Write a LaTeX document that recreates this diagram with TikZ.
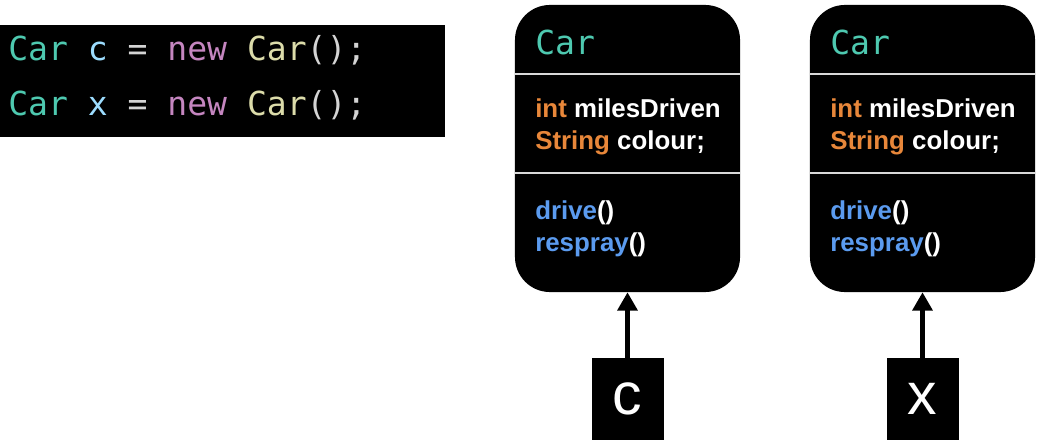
\documentclass[tikz,border=0pt]{standalone}
\usepackage{fontspec}
\setmainfont{Liberation Sans}
\newfontfamily\codefont{DejaVu Sans Mono}
\usetikzlibrary{arrows.meta}

\definecolor{typeteal}{HTML}{4EC9B0}
\definecolor{varblue}{HTML}{9CDCFE}
\definecolor{keypurple}{HTML}{C586C0}
\definecolor{funcyellow}{HTML}{DCDCAA}
\definecolor{punctgrey}{HTML}{D4D4D4}
\definecolor{fieldorange}{HTML}{E8873A}
\definecolor{methblue}{HTML}{5B9BEF}

\tikzset{
  codetext/.style={anchor=base west, inner sep=0pt, font=\codefont\fontsize{23.5}{28}\selectfont},
  carbox/.style={fill=black, rounded corners=0.875cm, minimum width=5.625cm, minimum height=7.175cm, inner sep=0pt},
  sepline/.style={draw=white!85!black, line width=0.8pt},
  membertext/.style={anchor=base west, inner sep=0pt, text=white, font=\bfseries\fontsize{18.4}{22}\selectfont},
  varbox/.style={fill=black, text=white, minimum width=1.8cm, minimum height=2.05cm, inner sep=0pt, font=\fontsize{42}{46}\selectfont},
  refarrow/.style={line width=3pt, -{Triangle[length=13pt, width=14pt]}},
}

\begin{document}
\begin{tikzpicture}[x=0.025cm, y=-0.025cm]
  \useasboundingbox (0,0) rectangle (1043,440);

  % the two declarations
  \node[fill=black, anchor=north west, minimum width=11.125cm, minimum height=2.8cm, inner sep=0pt] (code) at (0,25) {};
  \node[codetext] (line-c) at (8,61) {\color{typeteal}Car \color{varblue}c \color{punctgrey}= \color{keypurple}new \color{funcyellow}Car\color{punctgrey}();};
  \node[codetext] (line-x) at (8,115) {\color{typeteal}Car \color{varblue}x \color{punctgrey}= \color{keypurple}new \color{funcyellow}Car\color{punctgrey}();};

  % one object per reference
  \foreach \obj/\cx in {c/627.5, x/922.5} {
    \node[carbox] (car-\obj) at (\cx,148.5) {};
    \draw[sepline] (car-\obj.west |- 0,74) -- (car-\obj.east |- 0,74);
    \draw[sepline] (car-\obj.west |- 0,173) -- (car-\obj.east |- 0,173);

    \node[codetext, text=typeteal] (title-\obj) at ({\cx-92.5},55) {Car};
    \node[membertext] (miles-\obj) at ({\cx-92.5},117) {\color{fieldorange}int \color{white}milesDriven};
    \node[membertext] (colour-\obj) at ({\cx-92.5},149) {\color{fieldorange}String \color{white}colour;};
    \node[membertext] (drive-\obj) at ({\cx-92.5},219) {\color{methblue}drive\color{white}()};
    \node[membertext] (respray-\obj) at ({\cx-92.5},251) {\color{methblue}respray\color{white}()};

    \node[varbox] (var-\obj) at ({\cx},399) {\obj};
    \draw[refarrow] (var-\obj) -- (car-\obj);
  }
\end{tikzpicture}
\end{document}
